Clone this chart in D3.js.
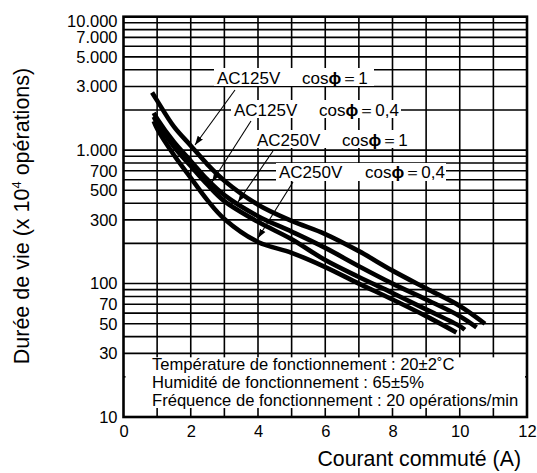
<!DOCTYPE html>
<html>
<head>
<meta charset="utf-8">
<script src="https://cdn.jsdelivr.net/npm/d3@7"></script>
<style>
  body{margin:0;background:#fff}
  svg{display:block}
  text{font-family:"Liberation Sans",Arial,Helvetica,sans-serif;fill:#000}
</style>
</head>
<body>
<div id="chart"></div>
<script>
// données : [courant (A), durée de vie (x10^4 opérations)]
const xTicks = [0, 2, 4, 6, 8, 10, 12]
const yTicks = [10, 30, 50, 70, 100, 300, 500, 700, 1000, 3000, 5000, 7000, 10000]
const yTickLabels = ['10', '30', '50', '70', '100', '300', '500', '700', '1.000', '3.000', '5.000', '7.000', '10.000']

const ac125cos1 = [[0.85,2700],[1,2350],[1.5,1500],[2,1080],[2.5,780],[3,590],[4,390],[5,295],[6,235],[7,175],[8,125],[9,92],[10,68],[10.75,50]]
const ac125cos04 = [[0.9,1900],[1,1720],[1.5,1150],[2,830],[2.5,600],[3,460],[4,320],[5,245],[6,185],[7,135],[8,100],[9,76],[10,57],[10.5,47]]
const ac250cos1 = [[0.9,1780],[1,1600],[1.5,1060],[2,760],[2.5,550],[3,415],[4,290],[5,215],[6,150],[7,112],[8,85],[9,64],[10,48],[10.15,45]]
const ac250cos04 = [[0.9,1650],[1,1450],[1.5,920],[2,620],[2.5,420],[3,305],[4,205],[5,170],[6,133],[7,100],[8,76],[9,57],[9.9,43]]

const series = [ac125cos1, ac125cos04, ac250cos1, ac250cos04]
const seriesVolt = ['AC125V', 'AC125V', 'AC250V', 'AC250V']
const seriesCos = ['1', '0,4', '1', '0,4']

const conditions = [
  'Température de fonctionnement : 20±2˚C',
  'Humidité de fonctionnement : 65±5%',
  'Fréquence de fonctionnement : 20 opérations/min'
]

/* ================= mise en page ================= */
const W = 537, H = 473
const m = {left:123.5, right:527, top:16.7, bottom:417}

const svg = d3.select('#chart').append('svg')
    .attr('width', W).attr('height', H)

const x = d3.scaleLinear().domain([0, 12]).range([m.left, m.right])
const y = d3.scaleLog().domain([10, 10000]).range([m.bottom, m.top])

const grid = svg.append('g').attr('class','grid')
    .attr('stroke','#000').attr('stroke-width',1.6)

// lignes horizontales (1..9 par décade), 20 est traitée à part
y.ticks().filter(v => v > 10 && v < 10000 && v !== 20).forEach(v => {
  grid.append('line')
    .attr('x1', m.left).attr('x2', m.right)
    .attr('y1', y(v)).attr('y2', y(v))
})
// lignes verticales
d3.range(1, 12).forEach(v => {
  grid.append('line')
    .attr('x1', x(v)).attr('x2', x(v))
    .attr('y1', m.top).attr('y2', m.bottom)
})

// cadre des conditions d'essai
const boxTop = y(30) + 4, boxBottom = m.bottom - 9
svg.append('rect')
    .attr('x', m.left + 2).attr('y', boxTop)
    .attr('width', m.right - m.left - 4).attr('height', boxBottom - boxTop)
    .attr('fill', '#fff')
grid.append('line').attr('x1', m.left).attr('x2', m.left + 22).attr('y1', y(20)).attr('y2', y(20))
grid.append('line').attr('x1', m.right - 16).attr('x2', m.right).attr('y1', y(20)).attr('y2', y(20))
svg.append('g').selectAll('text').data(conditions).join('text')
    .attr('x', 152)
    .attr('y', (d,i) => boxTop + 12.5 + i*18.2)
    .attr('font-size', 16.6)
    .text(d => d)

// cadre
svg.append('rect')
    .attr('x', m.left).attr('y', m.top)
    .attr('width', m.right - m.left).attr('height', m.bottom - m.top)
    .attr('fill','none').attr('stroke','#000').attr('stroke-width',2.6)

// axes
const xAxis = svg.append('g')
    .attr('transform', `translate(0,${m.bottom})`)
    .call(d3.axisBottom(x).tickValues(xTicks).tickSize(0).tickPadding(8).tickFormat(d3.format('d')))
const yAxis = svg.append('g')
    .attr('transform', `translate(${m.left},0)`)
    .call(d3.axisLeft(y).tickValues(yTicks).tickSize(0).tickPadding(6)
      .tickFormat((d,i) => yTickLabels[i]))
svg.selectAll('.domain').remove()
svg.selectAll('.tick text').attr('font-size', 16.5).attr('fill','#000')
  .attr('font-family','"Liberation Sans",Arial,sans-serif')
yAxis.selectAll('.tick').filter(d => d === 10000).select('text').attr('dy', '0.62em')
xAxis.selectAll('.tick text').attr('dy', '0.72em')

// titres
svg.append('text')
    .attr('x', m.right - 6).attr('y', 466)
    .attr('text-anchor','end').attr('font-size', 21.3)
    .text('Courant commuté (A)')
const yt = svg.append('text')
    .attr('transform', `translate(29,216) rotate(-90)`)
    .attr('text-anchor','middle').attr('font-size', 21.5)
yt.append('tspan').text('Durée de vie (x 10')
yt.append('tspan').attr('font-size', 13).attr('dy', -8).text('4')
yt.append('tspan').attr('dy', 8).text(' opérations)')

// courbes
const line = d3.line()
    .x(d => x(d[0])).y(d => y(d[1]))
    .curve(d3.curveCatmullRom.alpha(0.5))
svg.append('g').selectAll('path').data(series).join('path')
    .attr('d', line)
    .attr('fill','none').attr('stroke','#000')
    .attr('stroke-width', 4.6)

// étiquettes + flèches
const labelPos = [
  {bx:214, by:68, bw:160, tx:217, cx:302, ty:83.5, ax1:235, ay1:90, ax2:195, ay2:145},
  {bx:231, by:100, bw:170, tx:234, cx:319, ty:116, ax1:251, ay1:121, ax2:212, ay2:182},
  {bx:254, by:130, bw:156, tx:257, cx:342, ty:146, ax1:273, ay1:151, ax2:238, ay2:202},
  {bx:276, by:163, bw:170, tx:279, cx:365, ty:177.5, ax1:293, ay1:182, ax2:258, ay2:238}
]
svg.append('defs').append('marker')
    .attr('id','arr').attr('viewBox','0 0 10 10')
    .attr('refX',10).attr('refY',5)
    .attr('markerWidth',9).attr('markerHeight',9)
    .attr('markerUnits','userSpaceOnUse')
    .attr('orient','auto')
  .append('path').attr('d','M0,1.5L10,5L0,8.5Z').attr('fill','#000')

const lab = svg.append('g').selectAll('g').data(labelPos).join('g')
lab.append('rect')
    .attr('x', d => d.bx).attr('y', d => d.by)
    .attr('width', d => d.bw).attr('height', 18)
    .attr('fill','#fff')
lab.append('line')
    .attr('x1', d => d.ax1).attr('y1', d => d.ay1)
    .attr('x2', d => d.ax2).attr('y2', d => d.ay2)
    .attr('stroke','#000').attr('stroke-width',1.1)
    .attr('marker-end','url(#arr)')
lab.append('text')
    .attr('x', d => d.tx).attr('y', d => d.ty)
    .attr('font-size', 17)
    .text((d,i) => seriesVolt[i])
const ct = lab.append('text')
    .attr('x', d => d.cx).attr('y', d => d.ty)
    .attr('font-size', 17)
ct.append('tspan').text('cos')
ct.append('tspan').attr('font-weight','bold').text('ϕ')
ct.append('tspan').text((d,i) => '＝' + seriesCos[i])
</script>
</body>
</html>
